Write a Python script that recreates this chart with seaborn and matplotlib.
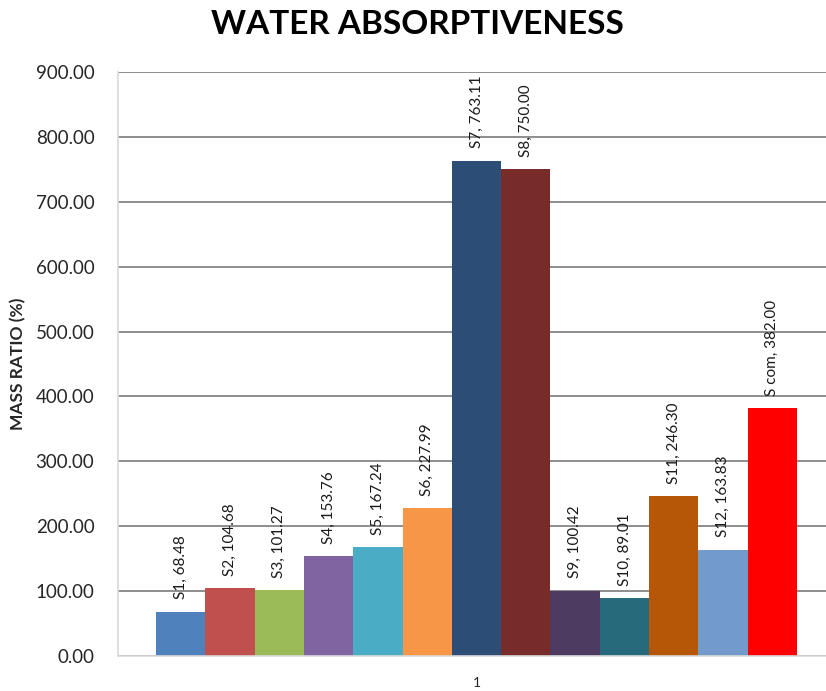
import matplotlib
matplotlib.use("Agg")
import matplotlib.pyplot as plt
import seaborn as sns
import pandas as pd

# Sample names, measured mass ratios and bar colours
samples = ["S1", "S2", "S3", "S4", "S5", "S6", "S7", "S8", "S9", "S10", "S11", "S12", "S com"]
mass_ratio = [68.48, 104.68, 101.27, 153.76, 167.24, 227.99, 763.11, 750.00,
              100.42, 89.01, 246.30, 163.83, 382.00]
colors = ["#4F81BD", "#C0504D", "#9BBB59", "#8064A2", "#4BACC6", "#F79646",
          "#2C4D75", "#772C2A", "#4D3B62", "#276A7C", "#B65708", "#729ACA", "#FF0000"]
category = ["1"] * len(samples)
y_ticks = [0, 100, 200, 300, 400, 500, 600, 700, 800, 900]

df = pd.DataFrame({"category": category, "sample": samples, "value": mass_ratio})

sns.set_theme(style="white")
plt.rcParams["font.family"] = ["Lato", "DejaVu Sans"]

fig = plt.figure(figsize=(8.26, 6.91), dpi=100)
ax = fig.add_axes([118 / 826, 35 / 691, 717 / 826, 584 / 691])

sns.barplot(data=df, x="category", y="value", hue="sample", hue_order=samples,
            palette=colors, width=0.8, dodge=True, legend=False, ax=ax,
            saturation=1, linewidth=0, errorbar=None)

half = 0.4 * 717 / 641
ax.set_xlim(-half, half)
ax.set_ylim(0, 900)
ax.set_yticks(y_ticks)
ax.set_yticklabels([f"{v:.2f}" for v in y_ticks], fontsize=13.5)
ax.tick_params(axis="y", length=0, pad=17)
ax.tick_params(axis="x", length=0, pad=15, labelsize=10)

ax.yaxis.grid(True, color="#858585", linewidth=1.3)
ax.set_axisbelow(True)
for side in ["top", "right"]:
    ax.spines[side].set_visible(False)
ax.spines["left"].set_color("#D9D9D9")
ax.spines["bottom"].set_color("#D9D9D9")
ax.spines["left"].set_linewidth(1.2)
ax.spines["bottom"].set_linewidth(1.2)

# Rotated value labels above each bar
for patch, name, val in zip(ax.patches, samples, mass_ratio):
    x = patch.get_x() + patch.get_width() / 2
    ax.annotate(f"{name}, {val:.2f}", xy=(x, patch.get_height()),
                xytext=(0, 9), textcoords="offset points",
                rotation=90, ha="center", va="bottom", fontsize=11,
                color="#1a1a1a", annotation_clip=False)

ax.set_xlabel("")
ax.set_ylabel("MASS RATIO (%)", fontsize=12.5, fontweight="bold", labelpad=7)
fig.text(417 / 826, 1 - 25 / 691, "WATER ABSORPTIVENESS", ha="center", va="center",
         fontsize=24, fontweight="bold", color="black")

fig.savefig("out.png", dpi=100)
